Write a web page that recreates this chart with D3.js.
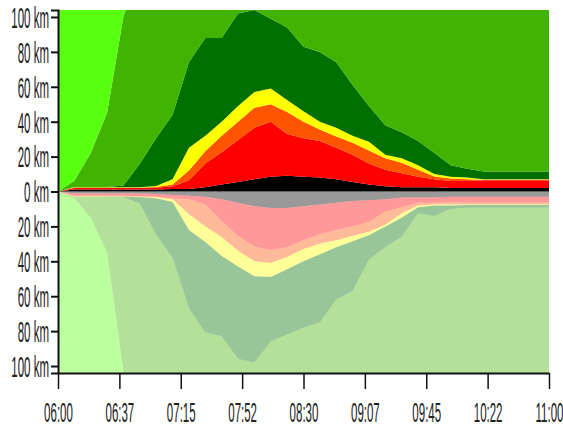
<!DOCTYPE html>
<html>
<head>
<meta charset="utf-8">
<script src="https://d3js.org/d3.v7.min.js"></script>
<style>
  body { margin: 0; background: #fff; }
  .axis text { font-family: "Liberation Sans", Arial, sans-serif; font-size: 11.5px; fill: #222; }
  .axis path, .axis line { stroke: #111; }
</style>
</head>
<body>
<script>
//Time slots (every 10 minutes)
var times = ["06:00","06:10","06:20","06:30","06:40","06:50","07:00","07:10","07:20","07:30","07:40",
             "07:50","08:00","08:10","08:20","08:30","08:40","08:50","09:00","09:10","09:20",
             "09:30","09:40","09:50","10:00","10:10","10:20","10:30","10:40","10:50","11:00"];

//Axis ticks
var tickTimes = ["06:00:00","06:37:30","07:15:00","07:52:30","08:30:00","09:07:30","09:45:00","10:22:30","11:00:00"];
var kmTicks = [-100,-80,-60,-40,-20,0,20,40,60,80,100];

//Upper direction, km per level
var topBlack  = [0,1.2,1.2,1.2,1.2,1.2,1.2,1.5,1.5,2.5,4,5.5,7,8.5,9,8.5,8,7,5.5,4,3,2.5,2.5,2.5,2,2,2,2,2,2,2];
var topRed    = [0,0.8,0.8,0.8,0.8,0.8,1,1.5,5,13.5,18.5,24,29.5,31.5,24,22,21,18,15.5,12,9.5,8,6,4.5,4,4,4.5,4.5,4.5,4.5,4.5];
var topOrange = [0,0.2,0.2,0.2,0.2,0.2,0.4,1,5.5,7,9.5,10.5,11.5,10,12.5,9.5,6.5,6.5,7,7.5,6.5,6,4,1.6,1.5,1,0.3,0.3,0.3,0.3,0.3];
var topYellow = [0,0.2,0.2,0.2,0.2,0.2,0.6,3,13,9,8,9,9,9,7,6,4.5,5,4,5,2,2.5,2.5,1.4,1,1,0.2,0.2,0.2,0.2,0.2];
var topDark   = [0,0.2,0.2,0.2,1,13.5,27.5,37,49,56,48,53,47,40,41.5,37,40,37.5,29,20.5,17,15,14,12,6.5,5,4.5,4.5,4.5,4.5,4.5];
var topGreen  = [0,3.5,19.5,42.5,97,110,110,110,110,110,110,110,110,110,110,110,110,110,110,110,110,110,110,110,110,110,110,110,110,110,110];
var topLime   = [200,200,200,200,200,200,200,200,200,200,200,200,200,200,200,200,200,200,200,200,200,200,200,200,200,200,200,200,200,200,200];

//Lower direction, km per level
var botBlack  = [0,1.2,1.2,1.2,1.2,1.2,1.5,2,2.5,3,4.5,6.5,8.5,9.5,9.5,8.5,7.5,6.5,5.5,5,4.5,3.5,3.5,3.5,3,3,3,3,3,3,3];
var botRed    = [0,1.3,1.3,1.3,1.3,1.5,1.5,2,2,4.5,12.5,19,23,24,22.5,19.5,17,15.5,14.5,12.5,7,5.5,3,3,3.3,3.3,3.3,3.3,3.3,3.3,3.3];
var botOrange = [0,0.3,0.3,0.3,0.3,0.3,0.3,0.5,8.5,12.5,9,8.5,8.5,7.5,5.5,5,5.5,6,5.5,5.5,7.5,3.5,1.5,1,1.2,1.2,1.2,1.2,1.2,1.2,1.2];
var botYellow = [0,0.2,0.2,0.2,0.2,0.2,0.5,1.5,9,9,11,9,8.5,8,7,7,6,4,3,2,1,2.5,1,0.5,0.5,0.3,0.3,0.3,0.3,0.3,0.3];
var botDark   = [0,0,0,0,0.3,3.8,21,32,45,52,46,53,49.5,37,37.5,38,39,30,28.5,14,12,11,3.5,6,2,1.5,1.5,1.5,1.5,1.5,1.5];
var botGreen  = [0,1,12,32,100,110,110,110,110,110,110,110,110,110,110,110,110,110,110,110,110,110,110,110,110,110,110,110,110,110,110];
var botLime   = [200,200,200,200,200,200,200,200,200,200,200,200,200,200,200,200,200,200,200,200,200,200,200,200,200,200,200,200,200,200,200];

var keys = ["black","red","orange","yellow","dark","green","lime"];
var colors = {black:"#000000", red:"#ff0000", orange:"#ff5500", yellow:"#ffff00",
              dark:"#007000", green:"#40b400", lime:"#58ff10"};

var parseTime = d3.timeParse("%H:%M");
var parseTick = d3.timeParse("%H:%M:%S");

//Build tables for the stack
var topData = times.map(function(t, i) {
  return {time: parseTime(t), black: topBlack[i], red: topRed[i], orange: topOrange[i],
          yellow: topYellow[i], dark: topDark[i], green: topGreen[i], lime: topLime[i]};
});
var botData = times.map(function(t, i) {
  return {time: parseTime(t), black: botBlack[i], red: botRed[i], orange: botOrange[i],
          yellow: botYellow[i], dark: botDark[i], green: botGreen[i], lime: botLime[i]};
});

//Define Margin
var W = 563, H = 428;
var margin = {left: 58, right: 549, top: 10, bottom: 373};

//Define SVG
var svg = d3.select("body").append("svg")
  .attr("width", W)
  .attr("height", H);

//Define Scales
var x = d3.scaleTime().domain([parseTime("06:00"), parseTime("11:00")]).range([margin.left, margin.right]);
var y = d3.scaleLinear().domain([-104, 104]).range([margin.bottom, margin.top]);

svg.append("clipPath").attr("id", "plot")
  .append("rect")
  .attr("x", margin.left).attr("y", margin.top)
  .attr("width", margin.right - margin.left).attr("height", margin.bottom - margin.top);

var stack = d3.stack().keys(keys);
var topSeries = stack(topData);
var botSeries = stack(botData);

var areaTop = d3.area()
  .x(function(d) { return x(d.data.time); })
  .y0(function(d) { return y(d[0]); })
  .y1(function(d) { return y(d[1]); });

var areaBot = d3.area()
  .x(function(d) { return x(d.data.time); })
  .y0(function(d) { return y(-d[0]); })
  .y1(function(d) { return y(-d[1]); });

var g = svg.append("g").attr("clip-path", "url(#plot)");

//Upper direction
g.selectAll(".top")
  .data(topSeries)
  .enter().append("path")
  .attr("class", "top")
  .attr("d", areaTop)
  .attr("fill", function(d) { return colors[d.key]; });

//Lower direction, same colours washed out
g.selectAll(".bot")
  .data(botSeries)
  .enter().append("path")
  .attr("class", "bot")
  .attr("d", areaBot)
  .attr("fill", function(d) { return colors[d.key]; })
  .attr("fill-opacity", 0.4);

//X-axis
var xAxis = d3.axisBottom(x)
  .tickValues(tickTimes.map(function(t) { return parseTick(t); }))
  .tickFormat(d3.timeFormat("%H:%M"))
  .tickSize(16)
  .tickSizeOuter(0);

var gX = svg.append("g")
  .attr("class", "axis")
  .attr("transform", "translate(0," + margin.bottom + ")")
  .call(xAxis);
gX.select(".domain").attr("stroke-width", 2);
gX.selectAll(".tick line").attr("stroke-width", 1.5);
gX.selectAll(".tick text")
  .attr("y", null)
  .attr("dy", null)
  .attr("transform", "translate(0,48.5) scale(1,2.4)");

//Y-axis
var yAxis = d3.axisLeft(y)
  .tickValues(kmTicks)
  .tickFormat(function(d) { return Math.abs(d) + " km"; })
  .tickSize(7)
  .tickSizeOuter(7);

var gY = svg.append("g")
  .attr("class", "axis")
  .attr("transform", "translate(" + margin.left + ",0)")
  .call(yAxis);
gY.select(".domain").attr("stroke-width", 2);
gY.selectAll(".tick line").attr("stroke-width", 2);
gY.selectAll(".tick text")
  .attr("x", null)
  .attr("dy", "0.36em")
  .attr("transform", "translate(-9,0) scale(1,2.5)");
</script>
</body>
</html>
